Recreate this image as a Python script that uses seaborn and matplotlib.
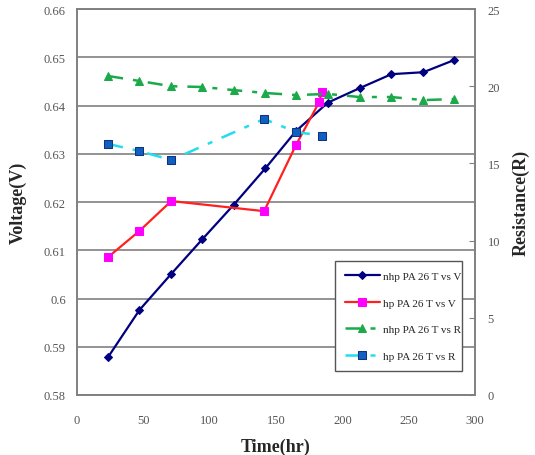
import numpy as np
import pandas as pd
import matplotlib
matplotlib.use('Agg')
import matplotlib.pyplot as plt
import seaborn as sns

# data
time_nhp = [23.5, 47, 71, 94.5, 118, 142, 165, 189, 213, 237, 261, 284]
v_nhp = [0.5879, 0.5976, 0.6051, 0.6123, 0.6194, 0.6270, 0.6347, 0.6406, 0.6436, 0.6465, 0.6469, 0.6494]
r_nhp = [20.66, 20.34, 20.0, 19.95, 19.75, 19.56, 19.43, 19.5, 19.3, 19.3, 19.1, 19.17]

time_hp_v = [23.5, 47, 71, 141, 165, 182.5, 184.5]
v_hp = [0.6086, 0.6140, 0.6202, 0.6181, 0.6318, 0.6407, 0.6428]

time_hp_r = [23.5, 47, 71, 141, 165, 185]
r_hp = [16.26, 15.8, 15.22, 17.88, 17.03, 16.8]

x_ticks = [0, 50, 100, 150, 200, 250, 300]
v_ticks = [0.58, 0.59, 0.6, 0.61, 0.62, 0.63, 0.64, 0.65, 0.66]
r_ticks = [0, 5, 10, 15, 20, 25]

sns.set_style('white')
plt.rcParams['font.family'] = ['Liberation Serif', 'DejaVu Serif']

fig = plt.figure(figsize=(5.35, 4.56), dpi=100)
ax = fig.add_axes([0.144, 0.1316, 0.744, 0.8464])
ax2 = ax.twinx()

sns.lineplot(x=time_nhp, y=v_nhp, ax=ax, color='#000080', marker='D', markersize=4,
             markeredgecolor='#000080', linewidth=1.6, label='nhp PA 26 T vs V', sort=False)
sns.lineplot(x=time_hp_v, y=v_hp, ax=ax, color='#FF2020', marker='s', markersize=6,
             markerfacecolor='#FF00FF', markeredgecolor='#FF00FF', linewidth=1.6,
             label='hp PA 26 T vs V', sort=False)
sns.lineplot(x=time_nhp, y=r_nhp, ax=ax2, color='#1BAA4A', marker='^', markersize=6,
             markeredgecolor='#1BAA4A', linewidth=1.8, linestyle=(0, (6, 4, 2, 4)),
             label='nhp PA 26 T vs R', sort=False)
sns.lineplot(x=time_hp_r, y=r_hp, ax=ax2, color='#22DDEE', marker='s', markersize=5.5,
             markerfacecolor='#1060C0', markeredgecolor='#103080', linewidth=1.8,
             linestyle=(0, (6, 4, 2, 4)), label='hp PA 26 T vs R', sort=False)

ax.set_xlim(0, 300)
ax.set_ylim(0.58, 0.66)
ax2.set_ylim(0, 25)
ax.set_xticks(x_ticks)
ax.set_yticks(v_ticks)
ax.set_yticklabels(['0.58', '0.59', '0.6', '0.61', '0.62', '0.63', '0.64', '0.65', '0.66'])
ax2.set_yticks(r_ticks)

ax.yaxis.grid(True, color='#808080', linewidth=1.2)
ax.xaxis.grid(False)
for a in (ax, ax2):
    for s in a.spines.values():
        s.set_color('#808080')
        s.set_linewidth(1.2)
ax.tick_params(axis='x', direction='in', length=4, color='#808080', labelsize=9,
               labelcolor='#555555', pad=14)
ax.tick_params(axis='y', length=0, labelsize=9, labelcolor='#555555', pad=8)
ax2.tick_params(axis='y', direction='in', length=4, color='#808080', labelsize=9,
                labelcolor='#555555', pad=9)

ax.set_xlabel('Time(hr)', fontsize=13, fontweight='bold', labelpad=8)
ax.set_ylabel('Voltage(V)', fontsize=13, fontweight='bold', labelpad=12)
ax2.set_ylabel('Resistance(R)', fontsize=13, fontweight='bold', labelpad=9)

h1, l1 = ax.get_legend_handles_labels()
h2, l2 = ax2.get_legend_handles_labels()
if ax.get_legend():
    ax.get_legend().remove()
leg = ax2.legend(h1 + h2, l1 + l2, loc='lower left', bbox_to_anchor=(0.633, 0.049, 0.347, 0.327),
                 mode='expand', fontsize=8, frameon=True, fancybox=False, framealpha=1,
                 edgecolor='#555555', labelspacing=1.5, handlelength=3.2, borderpad=0.9,
                 handletextpad=0.3)
leg.get_frame().set_linewidth(1.0)

fig.savefig('out.png', dpi=100)
